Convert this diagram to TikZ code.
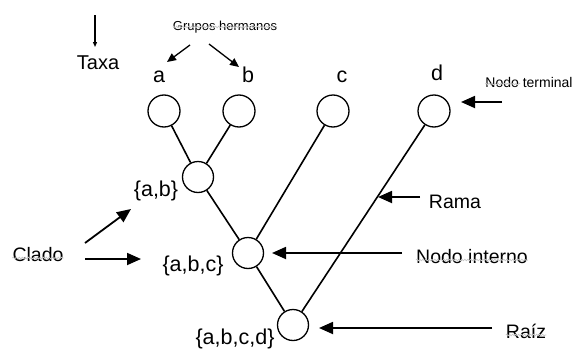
\documentclass[tikz,border=0pt]{standalone}
\usepackage{fontspec}
\setmainfont{Liberation Sans}
\usetikzlibrary{arrows.meta,decorations.pathmorphing}
\begin{document}
\begin{tikzpicture}[x=1pt,y=-1pt,
  tnode/.style={draw,line width=1.3pt,circle,minimum size=32pt,inner sep=0pt,fill=white},
  branch/.style={line width=1.6pt},
  bigarrow/.style={line width=1.8pt,-{Triangle[length=14pt,width=12pt]}},
  smallarrow/.style={line width=1.3pt,-{Triangle[length=9pt,width=8pt]}},
  lbl/.style={font=\fontsize{19.5}{21}\selectfont,anchor=base,inner sep=0pt},
  big/.style={font=\fontsize{21.5}{23}\selectfont,anchor=base,inner sep=0pt},
  small/.style={font=\fontsize{13}{15}\selectfont,anchor=base,inner sep=0pt},
  squig/.style={draw=gray!45,line width=0.7pt,decorate,decoration={snake,amplitude=0.8pt,segment length=3pt}}]
\useasboundingbox (0,0) rectangle (576,351);
% tree nodes
\node[tnode] (a) at (164,111) {};
\node[tnode] (b) at (239,111) {};
\node[tnode] (c) at (333,111) {};
\node[tnode] (d) at (434,111) {};
\node[tnode,minimum size=31pt] (ab) at (198,177) {};
\node[tnode,minimum size=31pt] (abc) at (248,253) {};
\node[tnode,minimum size=31pt] (root) at (293,325) {};
% branches
\draw[branch] (a) -- (ab);
\draw[branch] (b) -- (ab);
\draw[branch] (ab) -- (abc);
\draw[branch] (c) -- (abc);
\draw[branch] (abc) -- (root);
\draw[branch] (d) -- (root);
% taxa labels
\node[big] (la) at (159,82) {a};
\node[big] (lb) at (248,82) {b};
\node[big] (lc) at (342,82) {c};
\node[big] (ld) at (437,80) {d};
\node[lbl,font=\fontsize{20}{22}\selectfont] (taxa) at (98,69) {Taxa};
\node[big] (lab) at (156,196) {\{a,b\}};
\node[big] (labc) at (193,271) {\{a,b,c\}};
\node[big] (labcd) at (235,344) {\{a,b,c,d\}};
% annotation labels
\node[small] (grupos) at (225,30) {Grupos hermanos};
\node[small,font=\fontsize{14}{16}\selectfont] (nterm) at (529,87) {Nodo terminal};
\node[lbl] (rama) at (455,208) {Rama};
\node[lbl] (nint) at (472,263) {Nodo interno};
\node[lbl] (raiz) at (526,338) {Raíz};
\node[lbl] (clado) at (38,261) {Clado};
% arrow end points
\coordinate (t1) at (95,15);
\coordinate (t2) at (95,47);
\coordinate (g1s) at (190,45);
\coordinate (g1e) at (167,62);
\coordinate (g2s) at (209,44);
\coordinate (g2e) at (239,67);
\coordinate (nts) at (502,102);
\coordinate (nte) at (461,102);
\coordinate (ras) at (420,197);
\coordinate (rae) at (378,197);
\coordinate (nis) at (402,253);
\coordinate (nie) at (272,253);
\coordinate (rzs) at (492,328);
\coordinate (rze) at (319,328);
\coordinate (c1s) at (85,243);
\coordinate (c1e) at (131,209);
\coordinate (c2s) at (85,259);
\coordinate (c2e) at (141,259);
% arrows
\draw[line width=1.1pt,-{Triangle[length=5pt,width=4pt]}] (t1) -- (t2);
\draw[smallarrow] (g1s) -- (g1e);
\draw[smallarrow] (g2s) -- (g2e);
\draw[bigarrow] (nts) -- (nte);
\draw[bigarrow] (ras) -- (rae);
\draw[bigarrow] (nis) -- (nie);
\draw[bigarrow] (rzs) -- (rze);
\draw[bigarrow] (c1s) -- (c1e);
\draw[bigarrow] (c2s) -- (c2e);
% spell-check squiggles
\draw[squig] ([yshift=3pt]grupos.base west) -- ([yshift=3pt]grupos.base east);
\draw[squig] ([yshift=3pt]nterm.base west) -- ++(35,0);
\draw[squig] ([yshift=3pt]clado.base west) -- ([yshift=3pt]clado.base east);
\draw[squig] ([yshift=3pt]nint.base west) -- ([yshift=3pt]nint.base east);
\draw[squig] ([yshift=3pt]raiz.base west) -- ([yshift=3pt]raiz.base east);
\end{tikzpicture}
\end{document}
